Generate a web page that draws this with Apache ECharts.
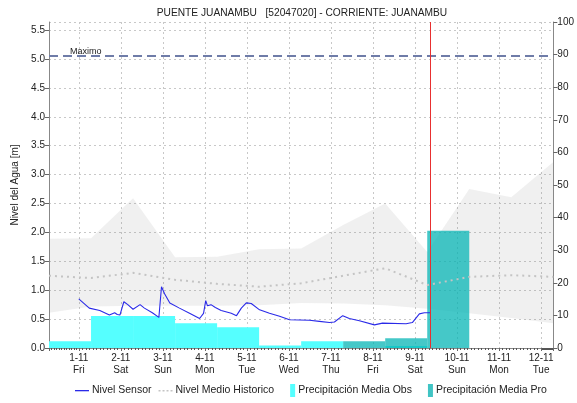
<!DOCTYPE html>
<html>
<head>
<meta charset="utf-8">
<script src="https://cdn.jsdelivr.net/npm/echarts@6/dist/echarts.min.js"></script>
<style>
html,body{margin:0;padding:0;background:#fff;}
#c{width:577px;height:403px;}
</style>
</head>
<body>
<div id="c"></div>
<script>
// ---- data ----
var titleText = 'PUENTE JUANAMBU   [52047020] - CORRIENTE: JUANAMBU';
var dayNames = ['Sun','Mon','Tue','Wed','Thu','Fri','Sat'];
var xMin = '2024-10-31 07:00';
var xMax = '2024-11-12 07:00';
var nowTime = '2024-11-09 08:45';
var maximoLevel = 5.06;

// historical band (min / max) and mean, daily at 07:00
var histTimes = ['2024-10-31 07:00','2024-11-01 07:00','2024-11-02 07:00','2024-11-03 07:00','2024-11-04 07:00','2024-11-05 07:00','2024-11-06 07:00','2024-11-07 07:00','2024-11-08 07:00','2024-11-09 07:00','2024-11-10 07:00','2024-11-11 07:00','2024-11-12 07:00'];
var histUpper = [1.89,1.90,2.59,1.57,1.58,1.71,1.72,2.13,2.50,1.66,2.75,2.61,3.22];
var histLower = [0.61,0.72,0.73,0.73,0.73,0.74,0.78,0.77,0.74,0.68,0.60,0.52,0.43];
var histMean  = [1.25,1.21,1.30,1.18,1.11,1.06,1.12,1.25,1.38,1.09,1.23,1.26,1.23];

// sensor level [time, m]
var sensorTimes = ['2024-11-01 00:00','2024-11-01 06:00','2024-11-01 12:00','2024-11-01 17:30','2024-11-01 20:30','2024-11-01 22:00','2024-11-01 23:30','2024-11-02 01:45','2024-11-02 04:00','2024-11-02 07:00','2024-11-02 11:00','2024-11-02 13:30','2024-11-02 18:00','2024-11-02 21:45','2024-11-02 23:15','2024-11-03 01:00','2024-11-03 04:00','2024-11-03 09:30','2024-11-03 15:15','2024-11-03 21:00','2024-11-03 23:15','2024-11-04 00:30','2024-11-04 01:30','2024-11-04 03:30','2024-11-04 06:00','2024-11-04 09:20','2024-11-04 15:05','2024-11-04 18:05','2024-11-04 20:50','2024-11-04 23:40','2024-11-05 02:30','2024-11-05 07:15','2024-11-05 12:55','2024-11-05 18:40','2024-11-06 00:20','2024-11-06 11:45','2024-11-06 17:25','2024-11-06 23:10','2024-11-07 02:00','2024-11-07 06:45','2024-11-07 10:30','2024-11-07 16:15','2024-11-08 00:50','2024-11-08 05:25','2024-11-08 18:55','2024-11-08 22:30','2024-11-09 02:30','2024-11-09 05:20','2024-11-09 08:45'];
var sensorValues = [0.85,0.69,0.65,0.57,0.61,0.58,0.57,0.80,0.75,0.67,0.75,0.69,0.61,0.53,1.06,0.94,0.78,0.69,0.60,0.51,0.60,0.82,0.73,0.75,0.70,0.65,0.60,0.56,0.69,0.78,0.77,0.66,0.60,0.55,0.49,0.48,0.46,0.44,0.45,0.56,0.51,0.47,0.40,0.43,0.42,0.44,0.59,0.61,0.61];

// precipitation [start, end, mm]
var precipObsStart = ['2024-10-31 07:00','2024-11-01 07:00','2024-11-02 07:00','2024-11-03 07:00','2024-11-04 07:00','2024-11-05 07:00','2024-11-06 07:00','2024-11-08 07:00'];
var precipObsEnd   = ['2024-11-01 07:00','2024-11-02 07:00','2024-11-03 07:00','2024-11-04 07:00','2024-11-05 07:00','2024-11-06 07:00','2024-11-07 07:00','2024-11-09 07:00'];
var precipObsValues = [2.1,9.8,9.8,7.6,6.4,0.8,2.1,0.6];
var precipProStart = ['2024-11-07 07:00','2024-11-08 07:00','2024-11-09 07:00'];
var precipProEnd   = ['2024-11-08 07:00','2024-11-09 07:00','2024-11-10 07:00'];
var precipProValues = [2.1,3.0,36];

// ---- build ----
function zip2(a,b){ return a.map(function(v,i){ return [v,b[i]]; }); }
function zip3(a,b,c){ return a.map(function(v,i){ return [v,b[i],c[i]]; }); }
var bandDiff = histUpper.map(function(v,i){ return +(v - histLower[i]).toFixed(3); });

function barRender(color){
  return function(params, api){
    var p0 = api.coord([api.value(0), 0]);
    var p1 = api.coord([api.value(1), api.value(2)]);
    return {
      type:'rect',
      shape: echarts.graphic.clipRectByRect({x:p0[0], y:p1[1], width:p1[0]-p0[0], height:p0[1]-p1[1]}, params.coordSys) || {x:0,y:0,width:0,height:0},
      style:{fill: color}
    };
  };
}

var font = 'Liberation Sans, Arial, sans-serif';
var iconLine = 'path://M0,0M0,6h14v1.3h-14zM14,13';
var iconDots = 'path://M0,0M0,6h2v1.5h-2zM4,6h2v1.5h-2zM8,6h2v1.5h-2zM12,6h2v1.5h-2zM14,13';
var iconRect = 'path://M0,0M9,0h5v13h-5zM14,13';

var chart = echarts.init(document.getElementById('c'), null, {renderer:'canvas'});
chart.setOption({
  animation:false,
  backgroundColor:'#fff',
  textStyle:{fontFamily:font},
  title:{text:titleText, left:297, textAlign:'center', top:3, textStyle:{fontSize:10.2, fontWeight:'normal', color:'#222', fontFamily:font}},
  grid:{left:49, right:23, top:22, bottom:55, containLabel:false},
  legend:{
    top:379, left:70, itemGap:7, itemWidth:14, itemHeight:13,
    textStyle:{fontSize:10.5, color:'#222', fontFamily:font, padding:[0,0,0,-2]},
    data:[
      {name:'Nivel Sensor', icon:iconLine},
      {name:'Nivel Medio Historico', icon:iconDots},
      {name:'Precipitación Media Obs', icon:iconRect},
      {name:'Precipitación Media Pro', icon:iconRect}
    ]
  },
  xAxis:{
    type:'time', min:xMin, max:xMax,
    minInterval:86400000, maxInterval:86400000,
    axisLine:{show:true, lineStyle:{color:'#888'}},
    axisTick:{show:true, length:3, lineStyle:{color:'#666'}},
    minorTick:{show:true, splitNumber:12, length:2, lineStyle:{color:'#555'}},
    splitLine:{show:true, lineStyle:{color:'#c8c8c8', type:[2,3]}},
    axisLabel:{
      color:'#222', fontSize:10, lineHeight:12, margin:4,
      showMinLabel:false, showMaxLabel:false,
      formatter:function(v){
        var d = new Date(v);
        if (d.getHours() !== 0 || d.getMinutes() !== 0) return '';
        return d.getDate() + '-' + (d.getMonth()+1) + '\n' + dayNames[d.getDay()];
      }
    }
  },
  yAxis:[
    {
      type:'value', min:0, max:5.64, interval:0.5, position:'left',
      name:'Nivel del Agua [m]', nameLocation:'middle', nameGap:24,
      nameTextStyle:{fontSize:10, color:'#222'},
      axisLine:{show:true, lineStyle:{color:'#888'}},
      axisTick:{show:true, length:4, lineStyle:{color:'#666'}},
      splitLine:{show:true, lineStyle:{color:'#c8c8c8', type:[2,3]}},
      axisLabel:{color:'#222', fontSize:10, margin:4, showMaxLabel:false,
        formatter:function(v){ return Math.abs(v*2 - Math.round(v*2)) < 1e-6 ? v.toFixed(1) : ''; }}
    },
    {
      type:'value', min:0, max:100, interval:10, position:'right',
      axisLine:{show:true, lineStyle:{color:'#888'}},
      axisTick:{show:true, length:4, lineStyle:{color:'#666'}},
      splitLine:{show:false},
      axisLabel:{color:'#222', fontSize:10, margin:4}
    }
  ],
  series:[
    {
      name:'bandLower', type:'line', stack:'band', data:zip2(histTimes, histLower),
      showSymbol:false, symbol:'none', lineStyle:{opacity:0}, silent:true, z:1
    },
    {
      name:'bandRange', type:'line', stack:'band', data:zip2(histTimes, bandDiff),
      showSymbol:false, symbol:'none', lineStyle:{opacity:0},
      areaStyle:{color:'rgba(128,128,128,0.12)', opacity:1}, silent:true, z:1
    },
    {
      name:'Precipitación Media Obs', type:'custom', yAxisIndex:1,
      data:zip3(precipObsStart, precipObsEnd, precipObsValues),
      encode:{x:[0,1], y:2},
      renderItem:barRender('#55ffff'), itemStyle:{color:'#55ffff'}, z:2
    },
    {
      name:'Precipitación Media Pro', type:'custom', yAxisIndex:1,
      data:zip3(precipProStart, precipProEnd, precipProValues),
      encode:{x:[0,1], y:2},
      renderItem:barRender('rgba(0,180,180,0.73)'), itemStyle:{color:'#40c4c4'}, z:2
    },
    {
      name:'Nivel Medio Historico', type:'line', data:zip2(histTimes, histMean),
      showSymbol:false, symbol:'none',
      lineStyle:{color:'#c4c4c4', width:2, type:[2,4]}, itemStyle:{color:'#c4c4c4'}, z:3
    },
    {
      name:'Nivel Sensor', type:'line', data:zip2(sensorTimes, sensorValues),
      showSymbol:false, symbol:'none',
      lineStyle:{color:'#2a2ae8', width:1.1}, itemStyle:{color:'#2a2ae8'}, z:4,
      markLine:{
        silent:true, symbol:'none', animation:false,
        data:[
          {yAxis:maximoLevel, lineStyle:{color:'#6f7ca8', width:2, type:[9,5]},
           label:{show:true, formatter:'Maximo', position:'insideStartTop', distance:[21,0], fontSize:9, color:'#222'}},
          {xAxis:nowTime, lineStyle:{color:'#e83030', width:1, type:'solid'}, label:{show:false}}
        ]
      }
    }
  ]
});
</script>
</body>
</html>
